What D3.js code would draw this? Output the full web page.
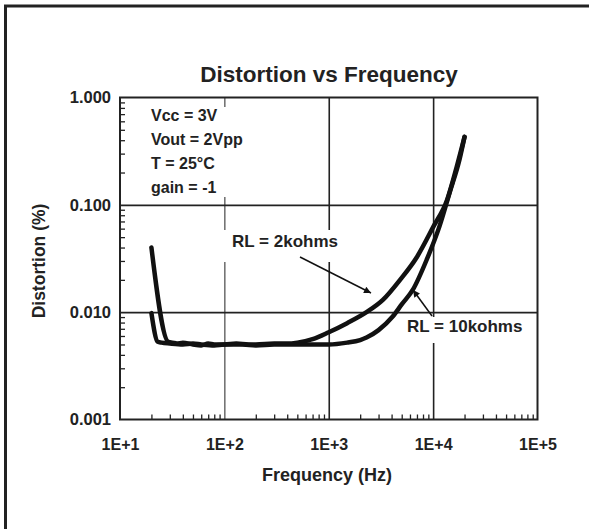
<!DOCTYPE html>
<html><head><meta charset="utf-8">
<script src="https://cdn.jsdelivr.net/npm/d3@7/dist/d3.min.js"></script>
<style>
html,body{margin:0;padding:0;background:#fff;}
svg{display:block;}
text{font-family:"Liberation Sans",Arial,Helvetica,sans-serif;font-weight:bold;fill:#222;}
</style></head>
<body>
<svg id="chart" width="589" height="529"></svg>
<script>
// ---- data ----
const title = "Distortion vs Frequency";
const xTitle = "Frequency (Hz)";
const yTitle = "Distortion (%)";
const xTickValues = [10, 100, 1000, 10000, 100000];
const xTickLabels = ["1E+1", "1E+2", "1E+3", "1E+4", "1E+5"];
const yTickValues = [0.001, 0.01, 0.1, 1];
const yTickLabels = ["0.001", "0.010", "0.100", "1.000"];
const conditions = ["Vcc = 3V", "Vout = 2Vpp", "T = 25\u00B0C", "gain = -1"];
const seriesNames = ["RL = 2kohms", "RL = 10kohms"];
const freq2k = [20, 29, 32, 35, 40, 50, 60, 70, 80, 100, 130, 170, 200, 300, 400, 500, 700, 1000, 1500, 2300, 3300, 4800, 7000, 10000, 13600, 16800, 20000];
const dist2k = [0.040, 0.0053, 0.0052, 0.0051, 0.0052, 0.0050, 0.0049, 0.0051, 0.0050, 0.0050, 0.0051, 0.0050, 0.0050, 0.0051, 0.0051, 0.0052, 0.0056, 0.0065, 0.0079, 0.0100, 0.0130, 0.0199, 0.0327, 0.062, 0.111, 0.225, 0.43];
const freq10k = [20, 23, 25, 30, 40, 50, 60, 80, 100, 150, 200, 300, 500, 700, 1000, 1500, 2000, 2300, 3000, 4100, 5000, 6400, 8700, 11500, 14400, 17900, 20000];
const dist10k = [0.0098, 0.0053, 0.0052, 0.0051, 0.0050, 0.0051, 0.0050, 0.0049, 0.0050, 0.0050, 0.0049, 0.0050, 0.0050, 0.0050, 0.0050, 0.0052, 0.0055, 0.0058, 0.0068, 0.0091, 0.0118, 0.0162, 0.031, 0.063, 0.130, 0.264, 0.43];

// ---- layout ----
const svg = d3.select("#chart");
const L = 120, R = 537.5, T = 97.5, B = 419.5;
const x = d3.scaleLog().domain([10, 100000]).range([L, R]);
const y = d3.scaleLog().domain([0.001, 1]).range([B, T]);
const ink = "#222";

// outer frame (open at right/bottom)
svg.append("path").attr("d", "M5.5,529V6H589").attr("fill", "none").attr("stroke", ink).attr("stroke-width", 3);

// gridlines
const gx = svg.append("g").attr("transform", `translate(0,${B})`)
  .call(d3.axisBottom(x).tickValues([100, 1000, 10000]).tickSize(-(B - T)).tickFormat(""));
gx.select(".domain").remove();
gx.selectAll("line").attr("stroke", ink).attr("stroke-width", (d) => d === 100 ? 1 : 1.6);
const gy = svg.append("g").attr("transform", `translate(${L},0)`)
  .call(d3.axisLeft(y).tickValues([0.01, 0.1]).tickSize(-(R - L)).tickFormat(""));
gy.select(".domain").remove();
gy.selectAll("line").attr("stroke", ink).attr("stroke-width", 1.6);

// minor ticks (inside)
const minorX = [];
for (let d = 10; d < 100000; d *= 10) for (let k = 2; k <= 9; k++) minorX.push(d * k);
const mx = svg.append("g").attr("transform", `translate(0,${B})`)
  .call(d3.axisBottom(x).tickValues(minorX).tickSize(-5).tickFormat(""));
mx.select(".domain").remove();
mx.selectAll("line").attr("stroke", ink).attr("stroke-width", 1.3);
const minorY = [];
for (let d = 0.001; d < 0.9; d *= 10) for (let k = 2; k <= 9; k++) minorY.push(d * k);
const my = svg.append("g").attr("transform", `translate(${L},0)`)
  .call(d3.axisLeft(y).tickValues(minorY).tickSize(-5).tickFormat(""));
my.select(".domain").remove();
my.selectAll("line").attr("stroke", ink).attr("stroke-width", 1.3);

// white boxes behind labels (break gridlines)
svg.append("rect").attr("x", 140).attr("y", 107).attr("width", 115).attr("height", 90).attr("fill", "#fff");
svg.append("rect").attr("x", 216).attr("y", 230).attr("width", 124).attr("height", 32).attr("fill", "#fff");
svg.append("rect").attr("x", 400).attr("y", 317).attr("width", 128).attr("height", 26).attr("fill", "#fff");

// curves
const line = d3.line().x(d => x(d[0])).y(d => y(d[1])).curve(d3.curveMonotoneX);
const s2k = freq2k.map((f, i) => [f, dist2k[i]]);
const s10k = freq10k.map((f, i) => [f, dist10k[i]]);
[s2k, s10k].forEach(s => {
  svg.append("path").attr("d", line(s)).attr("fill", "none").attr("stroke", "#111")
    .attr("stroke-width", 4.5).attr("stroke-linejoin", "round").attr("stroke-linecap", "round");
});

// plot border
svg.append("rect").attr("x", L).attr("y", T).attr("width", R - L).attr("height", B - T)
  .attr("fill", "none").attr("stroke", ink).attr("stroke-width", 2);

// axis tick labels
const ax = svg.append("g").attr("transform", `translate(0,${B})`)
  .call(d3.axisBottom(x).tickValues(xTickValues).tickSize(0).tickPadding(19)
    .tickFormat((d, i) => xTickLabels[i]));
ax.select(".domain").remove();
ax.selectAll("text").attr("font-size", 16).attr("font-family", "Liberation Sans, Arial, sans-serif").attr("font-weight", "bold").attr("fill", ink);
const ay = svg.append("g").attr("transform", `translate(${L},0)`)
  .call(d3.axisLeft(y).tickValues(yTickValues).tickSize(0).tickPadding(9)
    .tickFormat((d, i) => yTickLabels[i]));
ay.select(".domain").remove();
ay.selectAll("text").attr("font-size", 16.5).attr("font-family", "Liberation Sans, Arial, sans-serif").attr("font-weight", "bold").attr("fill", ink);

// titles
svg.append("text").attr("x", 329).attr("y", 82).attr("text-anchor", "middle").attr("font-size", 22.5).text(title);
svg.append("text").attr("x", 327).attr("y", 481).attr("text-anchor", "middle").attr("font-size", 18).text(xTitle);
svg.append("text").attr("transform", "translate(45,261) rotate(-90)").attr("text-anchor", "middle").attr("font-size", 17.5).text(yTitle);

// condition annotations
conditions.forEach((c, i) => {
  svg.append("text").attr("x", 151).attr("y", 121 + i * 24).attr("font-size", 16).text(c);
});

// series labels
svg.append("text").attr("x", 232).attr("y", 247).attr("font-size", 17).text(seriesNames[0]);
svg.append("text").attr("x", 407).attr("y", 332).attr("font-size", 17).text(seriesNames[1]);

// arrows
svg.append("defs").append("marker").attr("id", "ah").attr("viewBox", "0 0 10 10").attr("refX", 10).attr("refY", 5)
  .attr("markerWidth", 12).attr("markerHeight", 7).attr("markerUnits", "userSpaceOnUse").attr("orient", "auto")
  .append("path").attr("d", "M0,0L10,5L0,10Z").attr("fill", "#111");
svg.append("line").attr("x1", 300).attr("y1", 257).attr("x2", 371).attr("y2", 293)
  .attr("stroke", "#111").attr("stroke-width", 1.5).attr("marker-end", "url(#ah)");
svg.append("line").attr("x1", 432).attr("y1", 316).attr("x2", 413).attr("y2", 290)
  .attr("stroke", "#111").attr("stroke-width", 1.5).attr("marker-end", "url(#ah)");
</script>
</body></html>
